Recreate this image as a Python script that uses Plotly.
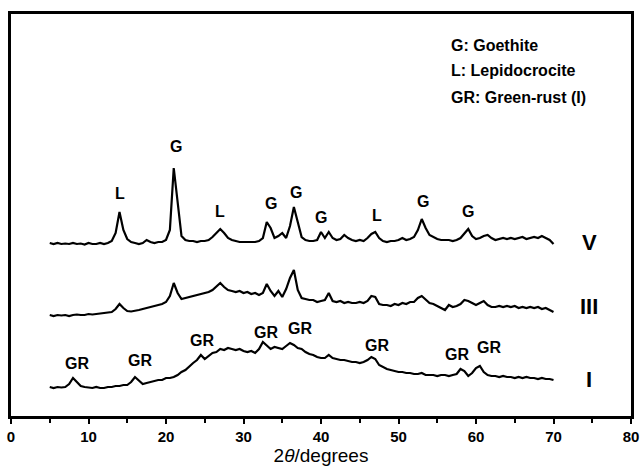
import numpy as np
import plotly.graph_objects as go

# 2-theta grid (degrees), 0.5 degree step from 5 to 70
two_theta_start = 5.0
two_theta_step = 0.5
n_points = 131
two_theta = [two_theta_start + i * two_theta_step for i in range(n_points)]

# Intensities (arbitrary units, vertically offset patterns)
sample_V = [173, 172, 173, 172, 172.5, 172, 173, 172, 172.5, 171.5,
            173, 172, 172, 173, 172, 173, 175, 183, 204, 186,
            177, 174, 173, 172, 173, 176, 174, 173, 174, 174,
            176, 186, 248, 211, 180, 176, 175, 175, 174, 175,
            175, 176, 179, 183, 187, 183, 178, 176, 175, 174,
            174, 174, 174, 174, 175, 178, 194, 188, 178, 180,
            183, 178, 190, 209, 194, 179, 176, 175, 175, 176,
            184, 178, 184, 178, 176, 177, 181, 178, 176, 175,
            176, 175, 178, 182, 184, 178, 175, 174, 175, 175,
            176, 178, 176, 177, 179, 186, 197, 188, 181, 179,
            177, 176, 176, 176, 175, 176, 178, 183, 187, 180,
            177, 178, 180, 181, 178, 176, 177, 178, 177, 178,
            177, 178, 179, 177, 178, 179, 178, 180, 178, 176,
            172]

sample_III = [101, 100, 101, 100.5, 101, 100, 101, 101.5, 101, 101,
              102, 101.5, 102, 102.5, 103, 103, 104, 107, 112, 108,
              105, 104.5, 105, 106, 107, 108, 109, 110, 111, 112,
              114, 120, 133, 123, 117, 118, 119, 120, 121, 122,
              123, 124, 126, 130, 133, 129, 126, 125, 124, 125,
              123, 124, 122, 123, 121, 123, 132, 125, 120, 125,
              119, 127, 138, 146, 126, 118, 117, 116, 116, 114,
              115, 116, 123, 115, 114, 115, 113, 114, 113, 113,
              114, 113, 115, 120, 119, 112, 111, 111, 110, 112,
              111, 113, 112, 114, 114, 118, 120, 116, 113, 112,
              110, 108, 106, 111, 109, 110, 112, 116, 115, 113,
              111, 113, 115, 111, 109, 109, 110, 109, 110, 109,
              110, 108, 109, 108, 109, 108, 109, 107, 108, 106,
              104]

sample_I = [29, 28, 29, 28.5, 29, 32, 38, 34, 30, 29,
            28.5, 28, 29, 28, 28, 29, 29, 30, 30, 31,
            31, 34, 39, 35, 32, 33, 34, 35, 36, 36,
            38, 38, 39, 41, 44, 46, 50, 53, 56, 61,
            57, 60, 63, 64, 67, 66, 68, 67, 66, 67,
            65, 64, 65, 63, 67, 74, 70, 67, 69, 68,
            67, 70, 73, 71, 68, 67, 64, 62, 61, 59,
            58, 58, 61, 58, 57, 56, 56, 55, 54, 54,
            53, 54, 56, 59, 57, 51, 49, 47, 46, 45,
            44, 44, 43, 43, 42, 42, 43, 41, 41, 41,
            40, 41, 41, 40, 41, 42, 47, 45, 40, 43,
            48, 50, 44, 41, 40, 40, 39, 40, 39, 39,
            38, 39, 38, 39, 38, 38, 37, 38, 37, 37,
            36]

# Peak labels: (text, 2theta, y)
labels_V = ["L", "G", "L", "G", "G", "G", "L", "G", "G"]
labels_V_x = [14.1, 21.25, 27.0, 33.5, 36.8, 40.0, 47.2, 53.2, 59.0]
labels_V_y = [223, 270, 205, 213, 224, 199, 201, 215, 205]

labels_I = ["GR", "GR", "GR", "GR", "GR", "GR", "GR", "GR"]
labels_I_x = [8.5, 16.6, 24.6, 32.9, 37.3, 47.2, 57.5, 61.7]
labels_I_y = [53, 56, 76, 84, 88, 71, 62, 69]

sample_names = ["V", "III", "I"]
sample_name_x = [74.6, 74.6, 74.6]
sample_name_y = [174, 110, 37]

legend_lines = ["G: Goethite", "L: Lepidocrocite", "GR: Green-rust (I)"]
legend_x = 56.5
legend_y = [371, 346, 319]

FONT = "Liberation Sans, Arial, sans-serif"

fig = go.Figure()
for ys in (sample_V, sample_III, sample_I):
    fig.add_trace(go.Scatter(x=two_theta, y=ys, mode="lines",
                             line=dict(color="black", width=2.2),
                             showlegend=False, hoverinfo="skip"))

label_font = dict(family=FONT, size=16, color="black", weight="bold")
for t, x, y in zip(labels_V + labels_I, labels_V_x + labels_I_x,
                   labels_V_y + labels_I_y):
    fig.add_annotation(x=x, y=y, text=t, showarrow=False, font=label_font,
                       xanchor="center", yanchor="middle")

for t, x, y in zip(sample_names, sample_name_x, sample_name_y):
    fig.add_annotation(x=x, y=y, text=t, showarrow=False,
                       font=dict(family=FONT, size=22, color="black",
                                 weight="bold"),
                       xanchor="center", yanchor="middle")

for t, y in zip(legend_lines, legend_y):
    fig.add_annotation(x=legend_x, y=y, text=t, showarrow=False,
                       font=dict(family=FONT, size=16, color="black",
                                 weight="bold"),
                       xanchor="left", yanchor="middle")

fig.update_layout(
    width=641, height=467,
    margin=dict(l=11, r=10, t=14, b=51, autoexpand=False),
    paper_bgcolor="white", plot_bgcolor="white",
    xaxis=dict(range=[0, 80], dtick=10, tick0=0, automargin=False,
               showline=True, mirror=True, linecolor="black", linewidth=2.5,
               ticks="outside", ticklen=5, tickwidth=2, tickcolor="black",
               minor=dict(dtick=5, ticks="outside", ticklen=4, tickwidth=2,
                          tickcolor="black", showgrid=False),
               showgrid=False, zeroline=False,
               ticklabeloverflow="allow",
               tickfont=dict(family=FONT, size=15, color="black",
                             weight="bold"),
               title=dict(text="2<i>θ</i>/degrees", standoff=4,
                          font=dict(family=FONT, size=19, color="black"))),
    yaxis=dict(range=[0, 402], automargin=False, showline=True, mirror=True,
               linecolor="black", linewidth=2.5, showticklabels=False,
               ticks="", showgrid=False, zeroline=False),
)

# Remove the default page margin so the figure fills the window exactly.
fig.write_html(
    "out.html",
    config={"displayModeBar": False},
    post_script="document.body.style.margin='0';"
                "document.body.style.overflow='hidden';",
)
